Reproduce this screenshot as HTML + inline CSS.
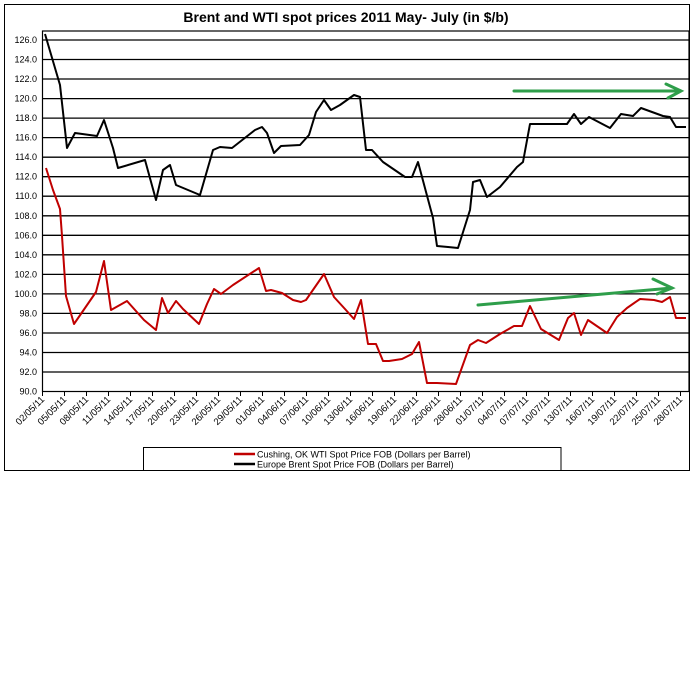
<!DOCTYPE html>
<html><head><style>
body{margin:0;background:#fff;}
svg{display:block;font-family:"Liberation Sans",Arial,sans-serif;}
</style></head><body>
<svg width="692" height="692" viewBox="0 0 692 692">
<rect x="4.5" y="4.5" width="685" height="466" fill="#fff" stroke="#000" stroke-width="1"/>
<text x="346" y="22" text-anchor="middle" font-size="14" font-weight="bold">Brent and WTI spot prices 2011 May- July (in $/b)</text>
<g stroke="#000" stroke-width="1.3">
<line x1="42.5" y1="40" x2="689" y2="40"/><line x1="42.5" y1="59.5" x2="689" y2="59.5"/><line x1="42.5" y1="79" x2="689" y2="79"/><line x1="42.5" y1="98.6" x2="689" y2="98.6"/><line x1="42.5" y1="118.1" x2="689" y2="118.1"/><line x1="42.5" y1="137.6" x2="689" y2="137.6"/><line x1="42.5" y1="157.2" x2="689" y2="157.2"/><line x1="42.5" y1="176.7" x2="689" y2="176.7"/><line x1="42.5" y1="196.2" x2="689" y2="196.2"/><line x1="42.5" y1="215.8" x2="689" y2="215.8"/><line x1="42.5" y1="235.3" x2="689" y2="235.3"/><line x1="42.5" y1="254.8" x2="689" y2="254.8"/><line x1="42.5" y1="274.4" x2="689" y2="274.4"/><line x1="42.5" y1="293.9" x2="689" y2="293.9"/><line x1="42.5" y1="313.4" x2="689" y2="313.4"/><line x1="42.5" y1="333" x2="689" y2="333"/><line x1="42.5" y1="352.5" x2="689" y2="352.5"/><line x1="42.5" y1="372" x2="689" y2="372"/>
</g>
<rect x="42.5" y="31" width="646.5" height="360.5" fill="none" stroke="#000" stroke-width="1.2"/>
<g font-size="9" text-anchor="end" fill="#000">
<text x="37" y="43">126.0</text><text x="37" y="62.5">124.0</text><text x="37" y="82">122.0</text><text x="37" y="101.6">120.0</text><text x="37" y="121.1">118.0</text><text x="37" y="140.6">116.0</text><text x="37" y="160.2">114.0</text><text x="37" y="179.7">112.0</text><text x="37" y="199.2">110.0</text><text x="37" y="218.8">108.0</text><text x="37" y="238.3">106.0</text><text x="37" y="257.8">104.0</text><text x="37" y="277.4">102.0</text><text x="37" y="296.9">100.0</text><text x="37" y="316.4">98.0</text><text x="37" y="336">96.0</text><text x="37" y="355.5">94.0</text><text x="37" y="375">92.0</text><text x="37" y="394.5">90.0</text>
</g>
<g stroke="#000" stroke-width="1">
<line x1="42.5" y1="391" x2="42.5" y2="396"/><line x1="64.5" y1="391" x2="64.5" y2="396"/><line x1="86.5" y1="391" x2="86.5" y2="396"/><line x1="108.5" y1="391" x2="108.5" y2="396"/><line x1="130.5" y1="391" x2="130.5" y2="396"/><line x1="152.5" y1="391" x2="152.5" y2="396"/><line x1="174.5" y1="391" x2="174.5" y2="396"/><line x1="196.5" y1="391" x2="196.5" y2="396"/><line x1="218.5" y1="391" x2="218.5" y2="396"/><line x1="240.5" y1="391" x2="240.5" y2="396"/><line x1="262.5" y1="391" x2="262.5" y2="396"/><line x1="284.5" y1="391" x2="284.5" y2="396"/><line x1="306.5" y1="391" x2="306.5" y2="396"/><line x1="328.5" y1="391" x2="328.5" y2="396"/><line x1="350.5" y1="391" x2="350.5" y2="396"/><line x1="372.5" y1="391" x2="372.5" y2="396"/><line x1="394.5" y1="391" x2="394.5" y2="396"/><line x1="416.5" y1="391" x2="416.5" y2="396"/><line x1="438.5" y1="391" x2="438.5" y2="396"/><line x1="460.5" y1="391" x2="460.5" y2="396"/><line x1="482.5" y1="391" x2="482.5" y2="396"/><line x1="504.5" y1="391" x2="504.5" y2="396"/><line x1="526.5" y1="391" x2="526.5" y2="396"/><line x1="548.5" y1="391" x2="548.5" y2="396"/><line x1="570.5" y1="391" x2="570.5" y2="396"/><line x1="592.5" y1="391" x2="592.5" y2="396"/><line x1="614.5" y1="391" x2="614.5" y2="396"/><line x1="636.5" y1="391" x2="636.5" y2="396"/><line x1="658.5" y1="391" x2="658.5" y2="396"/><line x1="680.5" y1="391" x2="680.5" y2="396"/>
</g>
<g font-size="9.5" text-anchor="end">
<text transform="translate(45,400) rotate(-45)">02/05/11</text><text transform="translate(67,400) rotate(-45)">05/05/11</text><text transform="translate(89,400) rotate(-45)">08/05/11</text><text transform="translate(111,400) rotate(-45)">11/05/11</text><text transform="translate(133,400) rotate(-45)">14/05/11</text><text transform="translate(155,400) rotate(-45)">17/05/11</text><text transform="translate(177,400) rotate(-45)">20/05/11</text><text transform="translate(199,400) rotate(-45)">23/05/11</text><text transform="translate(221,400) rotate(-45)">26/05/11</text><text transform="translate(243,400) rotate(-45)">29/05/11</text><text transform="translate(265,400) rotate(-45)">01/06/11</text><text transform="translate(287,400) rotate(-45)">04/06/11</text><text transform="translate(309,400) rotate(-45)">07/06/11</text><text transform="translate(331,400) rotate(-45)">10/06/11</text><text transform="translate(353,400) rotate(-45)">13/06/11</text><text transform="translate(375,400) rotate(-45)">16/06/11</text><text transform="translate(397,400) rotate(-45)">19/06/11</text><text transform="translate(419,400) rotate(-45)">22/06/11</text><text transform="translate(441,400) rotate(-45)">25/06/11</text><text transform="translate(463,400) rotate(-45)">28/06/11</text><text transform="translate(485,400) rotate(-45)">01/07/11</text><text transform="translate(507,400) rotate(-45)">04/07/11</text><text transform="translate(529,400) rotate(-45)">07/07/11</text><text transform="translate(551,400) rotate(-45)">10/07/11</text><text transform="translate(573,400) rotate(-45)">13/07/11</text><text transform="translate(595,400) rotate(-45)">16/07/11</text><text transform="translate(617,400) rotate(-45)">19/07/11</text><text transform="translate(639,400) rotate(-45)">22/07/11</text><text transform="translate(661,400) rotate(-45)">25/07/11</text><text transform="translate(683,400) rotate(-45)">28/07/11</text>
</g>
<polyline fill="none" stroke="#000" stroke-width="2" stroke-linejoin="round" points="45,34 60,85 67,148 75,133 97,136 104,120 113,148 118,168 145,160 156,200 163,170 170,165 176,185 200,195 213,150 220,147 232,148 255,130 262,127 267,133 274,153 281,146 300,145 309,135 316,112 324,100 331,110 340,105 354,95 360,97 366,150 372,150 383,162 405,177 412,177 418,162 433,218 437,246 448,247 458,248 470,210 473,182 480,180 487,197 500,187 517,167 523,162 530,124 567,124 574,114 581,124 589,117 610,128 621,114 633,116 641,108 663,116 670,117 676,127 686,127"/>
<polyline fill="none" stroke="#c00000" stroke-width="2" stroke-linejoin="round" points="46,168 53,190 60,209 62,236 66,296 74,324 96,292 104,261 111,310 127,301 144,320 156,330 162,298 168,313 176,301 183,309 199,324 207,304 214,289 221,294 233,285 259,268 266,291 271,290 282,293 293,300 301,302 306,300 324,274 334,297 345,309 354,319 361,300 368,344 376,344 383,361 389,361 402,359 412,354 419,342 427,383 437,383 456,384 470,345 478,340 486,343 500,334 514,326 522,326 530,306 541,329 559,340 568,318 574,313 581,335 588,320 607,333 617,317 627,308 640,299 654,300 662,302 670,297 676,318 686,318"/>
<g stroke="#2e9e4a" stroke-width="3" fill="none" stroke-linecap="round">
<line x1="514" y1="91" x2="680" y2="91"/><polyline points="666,84 681,91 668,98"/>
<line x1="478" y1="305" x2="672" y2="288"/><polyline points="653,279 672,288 657,294"/>
</g>
<rect x="143.5" y="447.5" width="417.5" height="23" fill="#fff" stroke="#000" stroke-width="1"/>
<line x1="234" y1="454" x2="255" y2="454" stroke="#c00000" stroke-width="2.5"/>
<line x1="234" y1="464" x2="255" y2="464" stroke="#000" stroke-width="2.5"/>
<text x="257" y="457.5" font-size="9">Cushing, OK WTI Spot Price FOB (Dollars per Barrel)</text>
<text x="257" y="467.5" font-size="9">Europe Brent Spot Price FOB (Dollars per Barrel)</text>
</svg>
</body></html>
